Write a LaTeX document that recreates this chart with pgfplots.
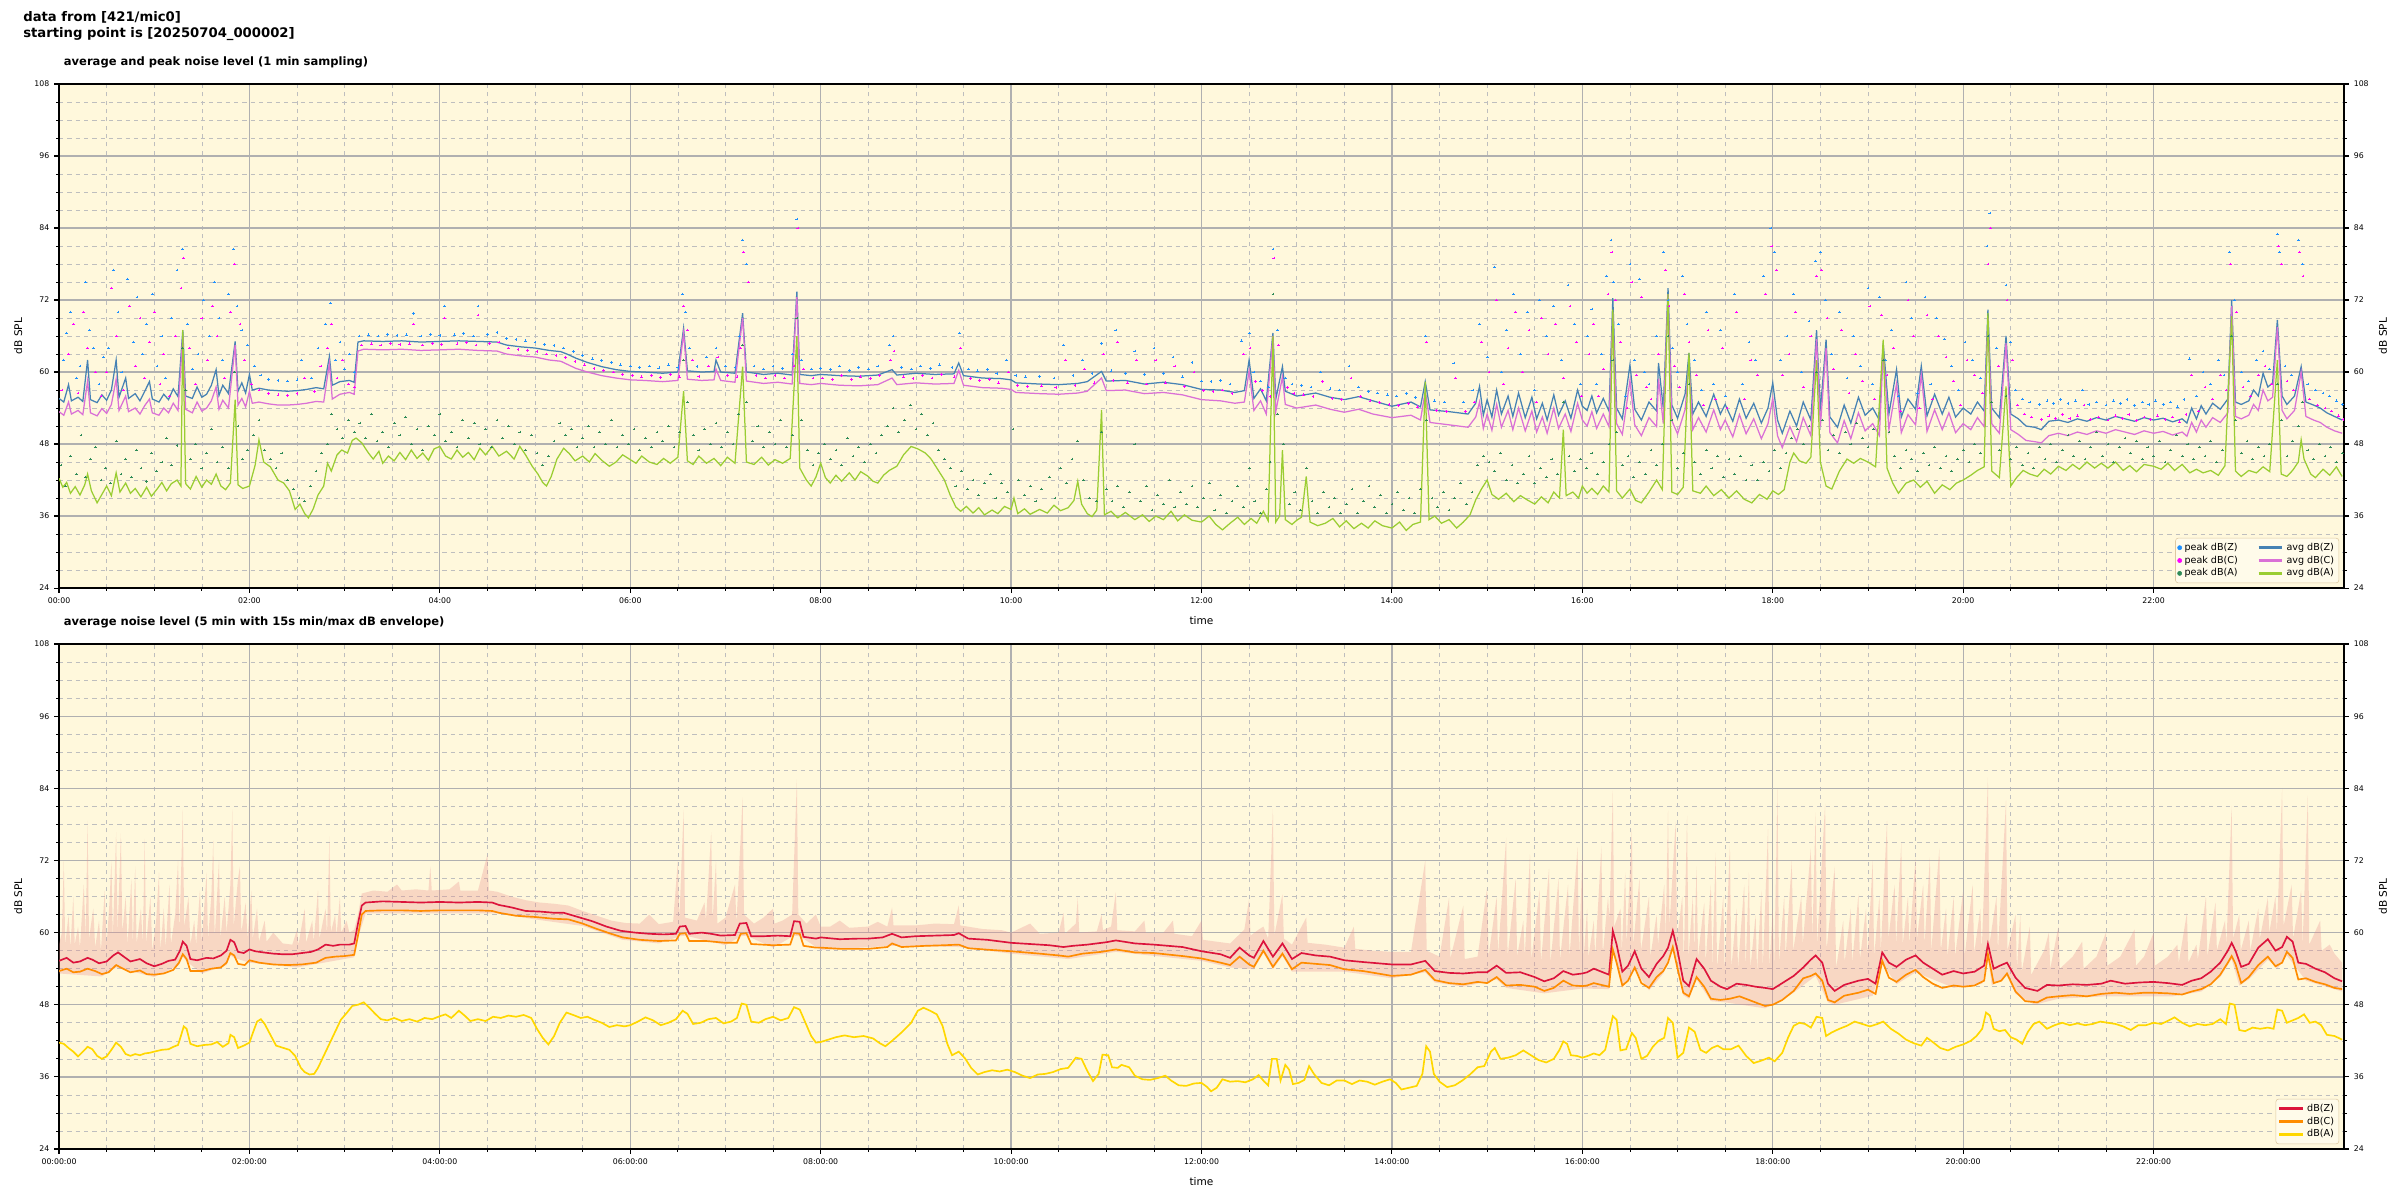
\documentclass[border=0pt]{standalone}
\usepackage{fontspec}
\setmainfont{DejaVu Sans}
\usepackage{pgfplots}
\pgfplotsset{compat=1.18}

\definecolor{cornsilk}{RGB}{255,248,220}
\definecolor{steelblue}{RGB}{70,130,180}
\definecolor{orchid}{RGB}{218,112,214}
\definecolor{yellowgreen}{RGB}{154,205,50}
\definecolor{dodgerblue}{RGB}{30,144,255}
\definecolor{peakmag}{RGB}{255,0,255}
\definecolor{seagreen}{RGB}{46,139,87}
\definecolor{crimson}{RGB}{220,20,60}
\definecolor{darkorange}{RGB}{255,140,0}
\definecolor{gold}{RGB}{255,215,0}
\definecolor{envpink}{RGB}{235,140,140}
\definecolor{gridmaj}{RGB}{176,176,176}
\definecolor{gridmin}{RGB}{190,190,190}
\definecolor{legedge}{RGB}{222,200,160}

\newcommand{\ticksize}{\fontsize{5.6}{6.7}\selectfont}
\newcommand{\labsize}{\fontsize{7.6}{9}\selectfont}
\newcommand{\legsize}{\fontsize{6.9}{8.2}\selectfont}

\pgfplotsset{
  noise/.style={
    width=1645.2pt, scale only axis,
    xmin=0, xmax=24, ymin=24, ymax=108,
    axis background/.style={fill=cornsilk},
    xtick={0,2,...,22}, minor x tick num=3,
    ytick={24,36,...,108}, yticklabels={24,36,48,60,72,84,96,108},
    minor y tick num=3,
    grid=both,
    major grid style={gridmaj, line width=0.9pt},
    minor grid style={gridmin, dashed, line width=0.45pt},
    tick align=outside, major tick length=3.5pt, minor tick length=2pt,
    major tick style={black, line width=0.8pt},
    minor tick style={black, line width=0.6pt},
    xtick pos=left, ytick pos=both, yticklabel pos=left,
    axis line style={black, line width=0.9pt},
    tick label style={font=\ticksize},
    /pgf/number format/assume math mode=true,
    xlabel={time}, ylabel={dB SPL}, label style={font=\labsize},
    xlabel style={at={(axis description cs:0.5,0)}, anchor=base, yshift=-26pt},
    ylabel style={at={(axis description cs:-0.0179,0.5)}, anchor=center},
    title style={at={(axis description cs:0,1)}, anchor=base west, yshift=7pt,
      font=\bfseries\fontsize{8.3}{10}\selectfont},
    legend cell align=left,
    legend style={at={(axis description cs:1,0)}, anchor=south east,
      xshift=-3.5pt, yshift=3.5pt, draw=legedge, fill=cornsilk!60!white,
      rounded corners=2pt, font=\legsize, inner sep=1.5pt, row sep=-1.5pt,
      /tikz/every even column/.append style={column sep=12pt}},
  },
  rightlab/.style={
    width=1645.2pt, scale only axis,
    xmin=0, xmax=24, ymin=24, ymax=108,
    hide x axis, axis y line*=right, y axis line style={draw=none},
    ytick={24,36,...,108}, yticklabels={24,36,48,60,72,84,96,108},
    tick align=outside, major tick length=3.5pt,
    major tick style={draw=none}, minor tick num=0,
    tick label style={font=\ticksize},
    ylabel={dB SPL}, label style={font=\labsize},
    ylabel style={at={(axis description cs:1.0170,0.5)}, anchor=center},
  },
  pk/.style={only marks, mark=+, mark size=1pt, mark options={line width=0.45pt}, forget plot},
}

\begin{document}
\begin{tikzpicture}

% ---------------- top panel ----------------
\begin{axis}[noise, at={(0,0)}, anchor=north west, height=362.9pt,
  xticklabels={00:00,02:00,04:00,06:00,08:00,10:00,12:00,14:00,16:00,18:00,20:00,22:00},
  title={average and peak noise level (1 min sampling)},
  legend columns=3, transpose legend]

% peak dB(Z)
\addplot[pk, dodgerblue] coordinates {
(0.05,62) (0.08,66.5) (0.12,70) (0.18,59) (0.22,61) (0.28,75) (0.32,67) (0.36,64) (0.42,58) (0.47,62.5) (0.52,64) (0.57,77) (0.62,70) (0.66,60) (0.72,75.5) (0.78,65) (0.82,72.5) (0.88,63) (0.92,68) (0.98,73) (1.03,61) (1.08,66) (1.12,59) (1.18,69) (1.24,77) (1.30,80.5) (1.35,68) (1.40,60.5) (1.46,63) (1.52,72) (1.58,66) (1.63,75) (1.68,69) (1.72,62) (1.78,73) (1.83,80.5) (1.87,71) (1.92,67) (1.98,64.5) (2.05,61) (2.12,59.5) (2.2,58.8) (2.3,58.6) (2.4,58.5) (2.5,58.7) (2.55,62) (2.65,59) (2.72,64) (2.8,68) (2.85,71.5) (2.9,62) (2.95,65) (3.0,60.5) (3.05,63) (3.1,60)
(3.15,66) (3.25,66.2) (3.35,66) (3.45,66.3) (3.55,66.1) (3.65,66.2) (3.72,69.8) (3.8,66) (3.9,66.3) (4.0,66.1) (4.05,71) (4.15,66.2) (4.25,66.4) (4.35,66) (4.4,71) (4.5,66.3) (4.6,66.6) (4.7,65.6) (4.8,65.4) (4.9,65.2) (5.0,65) (5.1,64.6) (5.2,64.4) (5.3,64) (5.4,63.4) (5.5,62.8) (5.6,62.2) (5.7,61.9) (5.8,61.6) (5.9,61.2) (6.0,61) (6.1,60.8) (6.2,61) (6.3,60.7) (6.4,61.2) (6.5,60.8) (6.55,73) (6.58,70) (6.62,64) (6.7,60.9) (6.8,62.5) (6.9,64) (7.0,61) (7.1,60.8) (7.15,66) (7.18,82) (7.22,78) (7.3,61) (7.4,60.5) (7.5,61) (7.6,60.6) (7.7,63) (7.75,85.5) (7.8,62) (7.9,60.5)
(8.0,60.6) (8.1,60.4) (8.2,61) (8.3,60.3) (8.4,60.8) (8.5,60.5) (8.6,61) (8.72,64.5) (8.76,66) (8.85,60.8) (8.95,60.5) (9.05,61) (9.15,60.6) (9.25,61.2) (9.38,60.8) (9.46,66.5) (9.55,60.5) (9.65,60.2) (9.75,60.4) (9.85,59.8) (9.95,62) (10.05,59.4) (10.15,59.2) (10.3,59.3) (10.45,59) (10.55,64.5) (10.65,59.4) (10.75,62) (10.85,59.8) (10.95,64.8) (11.05,60.2) (11.1,67) (11.2,59.8) (11.3,63.5) (11.4,59.6) (11.5,64) (11.6,59.8) (11.7,62.5) (11.8,59.2) (11.9,61.6) (12.0,58.5) (12.1,58.4) (12.2,58.6) (12.3,58) (12.42,65.2) (12.5,66.5) (12.55,60) (12.62,58.5) (12.7,57.5) (12.75,80.5) (12.8,67) (12.88,59) (12.95,58) (13.05,57.8) (13.15,57.5) (13.25,60) (13.35,57.2) (13.45,57) (13.55,61) (13.65,57.5) (13.75,56.8) (13.85,56.5) (13.95,56.2) (14.05,56) (14.15,56.4) (14.25,55.8) (14.35,66) (14.45,55.2) (14.55,55) (14.65,61.5) (14.75,55) (14.85,57) (14.92,68) (15.0,62.5) (15.08,77.5) (15.15,60) (15.2,67) (15.28,73) (15.35,63) (15.42,70) (15.5,57) (15.55,72) (15.62,66) (15.7,71) (15.78,62) (15.85,74.5) (15.92,68) (15.98,58)
(16.05,66) (16.1,70.5) (16.15,58) (16.2,63) (16.25,76) (16.3,82) (16.33,75) (16.38,68) (16.45,56) (16.5,78) (16.55,62) (16.6,75.5) (16.65,60) (16.7,58) (16.78,66) (16.85,80) (16.9,72) (16.95,64) (17.0,60) (17.05,76) (17.1,68) (17.18,62) (17.25,57) (17.3,70) (17.38,58) (17.45,67) (17.5,56) (17.6,73) (17.68,58) (17.75,65) (17.82,62) (17.9,76) (17.98,84) (18.02,80) (18.08,62) (18.15,66) (18.22,73) (18.3,60) (18.38,68.5) (18.45,78.5) (18.5,80) (18.55,72) (18.62,63) (18.7,70) (18.78,59) (18.85,66) (18.92,61) (19.0,74) (19.05,58) (19.12,72.5) (19.18,62) (19.25,67) (19.32,56) (19.4,75) (19.46,69) (19.52,56.5) (19.6,72.5) (19.66,58) (19.72,69) (19.8,65.5) (19.88,61) (19.95,57) (20.02,65) (20.1,62) (20.18,59) (20.25,81) (20.28,86.5) (20.35,64) (20.45,74.5) (20.5,65) (20.55,57) (20.62,55.5) (20.7,55) (20.8,54.6) (20.88,55.2) (20.95,54.8) (21.02,55.4) (21.1,54.8) (21.18,55.2) (21.25,57) (21.32,54.6) (21.4,55) (21.5,54.5) (21.58,55.2) (21.65,54.8) (21.72,55.4) (21.8,54.4) (21.88,55) (21.95,54.6) (22.02,55.2) (22.1,54.6) (22.18,55) (22.25,54.2) (22.32,55.4) (22.38,62.2) (22.45,56) (22.52,60) (22.6,58) (22.68,62) (22.74,59.5) (22.8,80) (22.85,72) (22.92,60) (23.0,58.5) (23.08,62) (23.15,63.5) (23.22,60.5) (23.3,83) (23.32,80) (23.38,61) (23.45,59.5) (23.52,82) (23.56,78) (23.62,58) (23.7,57) (23.78,56.5) (23.85,56) (23.92,55.2) (23.98,54.6)
};

% peak dB(C)
\addplot[pk, peakmag] coordinates {
(0.03,57) (0.1,63) (0.15,68) (0.2,56.5) (0.26,70) (0.3,64) (0.38,60) (0.44,56) (0.5,60) (0.55,74) (0.6,66) (0.68,57) (0.74,71) (0.8,61) (0.85,69) (0.9,59) (0.95,65) (1.0,70) (1.06,58) (1.1,63) (1.16,56) (1.22,66) (1.28,74) (1.31,79) (1.37,64) (1.43,58) (1.5,69) (1.56,62) (1.61,71) (1.66,66) (1.74,59) (1.8,70) (1.84,78) (1.9,68) (1.95,62) (2.02,58) (2.1,57) (2.2,56.4) (2.3,56.2) (2.4,56.1) (2.5,56.4) (2.58,59) (2.68,56.8) (2.75,61) (2.82,64) (2.86,68) (2.92,59) (2.98,62) (3.04,58) (3.1,57.5)
(3.18,64.5) (3.28,64.7) (3.38,64.5) (3.48,64.8) (3.58,64.6) (3.68,64.7) (3.72,68) (3.82,64.5) (3.92,64.8) (4.02,64.6) (4.05,69) (4.18,64.7) (4.28,64.9) (4.38,64.5) (4.4,69.5) (4.52,64.8) (4.62,65) (4.72,64) (4.82,63.8) (4.92,63.6) (5.02,63.4) (5.12,63) (5.22,62.8) (5.32,62.4) (5.42,61.8) (5.52,61.2) (5.62,60.6) (5.72,60.3) (5.82,60) (5.92,59.6) (6.02,59.4) (6.12,59.2) (6.22,59.4) (6.32,59.1) (6.42,59.6) (6.52,59.2) (6.56,71) (6.6,67) (6.65,62) (6.72,59.3) (6.82,61) (6.92,62.5) (7.02,59.4) (7.12,59.2) (7.16,64) (7.19,80) (7.24,75) (7.32,59.4) (7.42,59) (7.52,59.4) (7.62,59) (7.72,61) (7.76,84) (7.82,60.5) (7.92,59)
(8.02,59) (8.12,58.8) (8.22,59.4) (8.32,58.8) (8.42,59.2) (8.52,58.9) (8.62,59.4) (8.73,62) (8.77,63.5) (8.87,59.2) (8.97,58.9) (9.07,59.4) (9.17,59) (9.27,59.6) (9.4,59.2) (9.47,64) (9.57,58.9) (9.67,58.6) (9.77,58.8) (9.87,58.2) (9.97,60) (10.07,57.8) (10.17,57.6) (10.32,57.7) (10.47,57.4) (10.57,62) (10.67,57.8) (10.77,60.5) (10.87,58.2) (10.97,63) (11.07,58.6) (11.12,65) (11.22,58.2) (11.32,62) (11.42,58) (11.52,62) (11.62,58.2) (11.72,61) (11.82,57.6) (11.92,60) (12.02,56.9) (12.12,56.8) (12.22,57) (12.32,56.4) (12.44,63) (12.51,64) (12.57,58.4) (12.64,56.9) (12.72,55.9) (12.76,79) (12.81,64.5) (12.9,57.4) (12.97,56.4) (13.07,56.2) (13.17,55.9) (13.27,58.4) (13.37,55.6) (13.47,55.4) (13.57,59) (13.67,55.9) (13.77,55.2) (13.87,54.9) (13.97,54.6) (14.07,54.4) (14.17,54.8) (14.27,54.2) (14.36,65) (14.47,53.6) (14.57,53.4) (14.67,59) (14.77,53.4) (14.87,55) (14.94,65) (15.02,60) (15.1,72) (15.17,58) (15.22,64) (15.3,70) (15.37,60) (15.44,67) (15.52,55) (15.57,69) (15.64,63) (15.72,68) (15.8,59) (15.87,71) (15.94,65) (15.99,56)
(16.07,63) (16.12,68) (16.17,56) (16.22,60.5) (16.27,73) (16.31,80) (16.35,72) (16.4,65) (16.47,54) (16.52,75) (16.57,59.5) (16.62,72.5) (16.67,57.5) (16.72,55.5) (16.8,63) (16.87,77) (16.91,71) (16.97,61) (17.02,57.5) (17.07,73) (17.12,65) (17.2,59.5) (17.27,54.5) (17.32,67) (17.4,55.5) (17.47,64) (17.52,54) (17.62,70) (17.7,55.5) (17.77,62) (17.84,59.5) (17.92,73) (17.99,81) (18.04,77) (18.1,59.5) (18.17,63) (18.24,70) (18.32,57.5) (18.4,66) (18.46,76) (18.51,77) (18.57,69) (18.64,60.5) (18.72,67) (18.8,56.5) (18.87,63) (18.94,58.5) (19.02,71) (19.07,55.5) (19.14,69.5) (19.2,59.5) (19.27,64) (19.34,53.5) (19.42,72) (19.48,66) (19.54,54) (19.62,69.5) (19.68,55.5) (19.74,66) (19.82,62.5) (19.9,58.5) (19.97,54.5) (20.04,62) (20.12,59.5) (20.2,56.5) (20.26,78) (20.29,84) (20.37,61) (20.46,72) (20.52,62) (20.57,54.5) (20.64,53) (20.72,52.5) (20.82,52.1) (20.9,52.7) (20.97,52.3) (21.04,52.9) (21.12,52.3) (21.2,52.7) (21.27,54.5) (21.34,52.1) (21.42,52.5) (21.52,52) (21.6,52.7) (21.67,52.3) (21.74,52.9) (21.82,51.9) (21.9,52.5) (21.97,52.1) (22.04,52.7) (22.12,52.1) (22.2,52.5) (22.27,51.7) (22.34,52.9) (22.4,59.5) (22.47,53.5) (22.54,57.5) (22.62,55.5) (22.7,59.5) (22.76,57) (22.81,78) (22.87,70) (22.94,57.5) (23.02,56) (23.1,59.5) (23.17,61) (23.24,58) (23.31,81) (23.34,78) (23.4,58.5) (23.47,57) (23.53,80) (23.57,76) (23.64,55.5) (23.72,54.5) (23.8,54) (23.87,53.5) (23.94,52.7) (23.99,52.1)
};

% peak dB(A)
\addplot[pk, seagreen] coordinates {
(0.02,44.5) (0.07,41) (0.12,46) (0.18,43) (0.23,49.5) (0.28,42.5) (0.33,45.5) (0.38,47.5) (0.44,42) (0.49,44) (0.54,41.5) (0.6,48.5) (0.65,43) (0.7,45.5) (0.76,42.5) (0.81,47) (0.86,44) (0.92,41.8) (0.97,46.5) (1.02,43.5) (1.08,45) (1.13,49) (1.18,44.5) (1.24,47.8) (1.3,64) (1.33,57) (1.38,45.5) (1.43,48) (1.5,44) (1.55,46.5) (1.6,50.5) (1.66,45) (1.72,47.5) (1.78,44) (1.84,60) (1.88,51) (1.93,45.5) (1.98,47) (2.04,49.5) (2.1,52) (2.16,47) (2.22,45.5) (2.28,44) (2.34,46.5) (2.4,42) (2.46,40.5) (2.52,39) (2.58,38.5) (2.64,41) (2.7,43.5) (2.76,46.5) (2.82,48) (2.86,53) (2.92,50.5) (2.98,49) (3.04,52) (3.1,50) (3.16,51.5) (3.22,49) (3.28,53) (3.34,48.5) (3.4,50) (3.46,47.5) (3.52,51.5) (3.58,49.5) (3.64,52.5) (3.7,48) (3.76,50.5) (3.82,47) (3.88,51) (3.94,49.5) (4.0,53) (4.06,48.5) (4.12,50) (4.18,47.5) (4.24,52) (4.3,49) (4.36,51.5) (4.42,48) (4.48,50.5) (4.54,47.5) (4.6,52) (4.66,49) (4.72,51) (4.78,48) (4.84,50) (4.9,47) (4.96,49.5) (5.02,46.5) (5.08,44.5) (5.14,46) (5.2,48.5) (5.26,51.5) (5.32,49.5) (5.38,50.5) (5.44,47.5) (5.5,49) (5.56,51) (5.62,47.5) (5.68,50) (5.74,48) (5.8,52) (5.86,47.5) (5.92,49.5) (5.98,48) (6.04,50.5) (6.1,47) (6.16,49) (6.22,47.5) (6.28,50) (6.34,48.5) (6.4,51) (6.46,47.5) (6.52,50) (6.56,62) (6.6,55) (6.66,49.5) (6.72,47) (6.78,50.5) (6.84,48) (6.9,51.5) (6.96,47.5) (7.02,50) (7.08,48) (7.14,53) (7.18,64.5) (7.22,55) (7.28,48.5) (7.34,51) (7.4,47.5) (7.46,50) (7.52,48) (7.58,52) (7.64,47.5) (7.7,49.5) (7.75,69) (7.8,52) (7.86,47) (7.92,44.5)
(7.98,46.5) (8.04,48) (8.1,45.5) (8.16,47) (8.22,44.5) (8.28,49) (8.34,46) (8.4,47.5) (8.46,45) (8.52,48) (8.58,46.5) (8.64,49.5) (8.7,51) (8.76,54) (8.82,50) (8.88,52) (8.94,54.5) (9.0,50.5) (9.06,53) (9.12,49.5) (9.18,51.5) (9.24,47) (9.3,45.5) (9.36,44) (9.42,41) (9.48,43.5) (9.54,40.5) (9.6,42) (9.66,39.5) (9.72,41.5) (9.78,43) (9.84,39) (9.9,41.5) (9.96,40) (10.02,50.5) (10.08,42) (10.14,39.5) (10.2,41) (10.26,38.5) (10.32,40.5) (10.4,42.5) (10.46,39) (10.52,44) (10.58,41.5) (10.64,45.5) (10.7,48.5) (10.76,42) (10.82,39) (10.9,38.5) (10.95,50) (11.0,40.5) (11.06,38.5) (11.12,41) (11.18,37.5) (11.24,40) (11.3,48) (11.36,38.5) (11.42,41) (11.48,37) (11.54,39.5) (11.6,38) (11.66,42) (11.72,37.5) (11.78,40) (11.84,38) (11.9,41) (11.96,37.5) (12.02,39) (12.08,41.5) (12.14,37) (12.2,39.5) (12.26,36.5) (12.32,38.5) (12.38,41) (12.44,37.5) (12.5,44) (12.56,38.5) (12.62,36.5) (12.68,40.5) (12.72,45) (12.75,73) (12.8,53) (12.86,48) (12.92,38) (12.98,40) (13.04,37) (13.1,44) (13.16,38.5) (13.22,36.5) (13.28,40) (13.34,37.5) (13.4,39) (13.46,36.5) (13.52,38) (13.58,40.5) (13.64,36.5) (13.7,38.5) (13.76,41) (13.82,37.5) (13.88,39.5) (13.94,36.5) (14.0,38) (14.06,40) (14.12,37) (14.18,39) (14.24,36.5) (14.3,40.5) (14.36,52) (14.42,39) (14.48,37.5) (14.54,40) (14.6,37) (14.66,39) (14.72,41.5) (14.78,38) (14.84,40) (14.9,44.5) (14.96,46) (15.02,45) (15.08,43.5) (15.14,46.5) (15.2,42) (15.26,44.5) (15.32,41.5) (15.38,43) (15.44,46) (15.5,41.5) (15.56,44) (15.62,42.5) (15.68,45.5) (15.74,43) (15.8,55) (15.86,46) (15.92,43.5) (15.98,45.5)
(16.04,44) (16.1,46.5) (16.16,43) (16.22,45) (16.28,48) (16.32,62) (16.36,50) (16.42,44.5) (16.48,46) (16.54,42.5) (16.6,45) (16.66,43) (16.72,47) (16.78,44.5) (16.84,48) (16.9,66) (16.94,52) (17.0,44) (17.06,46.5) (17.12,58) (17.18,45) (17.24,43) (17.3,47) (17.36,44) (17.42,46) (17.48,42.5) (17.54,45.5) (17.6,43) (17.66,46) (17.72,42) (17.78,44.5) (17.84,42) (17.9,45) (17.96,43.5) (18.02,47) (18.08,44) (18.14,46.5) (18.2,49) (18.26,50.5) (18.32,48) (18.38,51) (18.46,60) (18.52,52) (18.58,47) (18.64,49.5) (18.7,46.5) (18.76,50) (18.82,48) (18.88,51.5) (18.94,49) (19.0,47.5) (19.06,50.5) (19.16,62) (19.22,50) (19.28,46) (19.34,44) (19.4,47) (19.46,45.5) (19.52,43.5) (19.58,46.5) (19.64,44.5) (19.7,47.5) (19.76,44) (19.82,46) (19.88,43.5) (19.94,45.5) (20.0,47) (20.06,45) (20.12,48) (20.18,46.5) (20.26,66) (20.3,55) (20.38,47) (20.45,56) (20.5,45.5) (20.56,47.5) (20.62,44.5) (20.68,46.5) (20.74,44) (20.8,47.5) (20.86,45.5) (20.92,48) (20.98,45) (21.04,47) (21.1,49.5) (21.16,46) (21.22,48.5) (21.28,45.5) (21.34,47.5) (21.4,50) (21.46,46) (21.52,48) (21.58,45) (21.64,47.5) (21.7,49) (21.76,46.5) (21.82,48.5) (21.88,45.5) (21.94,47.5) (22.0,46) (22.06,48.5) (22.12,45) (22.18,47) (22.24,49.5) (22.3,46) (22.36,48) (22.42,45.5) (22.48,47.5) (22.54,46) (22.6,48.5) (22.66,45) (22.72,47) (22.82,66) (22.86,52) (22.92,46.5) (22.98,48.5) (23.04,45.5) (23.1,47.5) (23.16,46) (23.22,48) (23.3,58) (23.34,52) (23.4,46) (23.46,48.5) (23.52,51) (23.56,55) (23.62,47) (23.68,45.5) (23.74,48) (23.8,46) (23.86,47.5) (23.92,45) (23.98,46.5)
};

% avg dB(Z)
\addplot[steelblue, line width=0.9pt, forget plot] coordinates {
(0.00,55.6) (0.05,55.0) (0.10,57.9) (0.13,55.2) (0.20,55.8) (0.25,55.1) (0.30,62.0) (0.33,55.4) (0.40,54.9) (0.45,56.2) (0.50,55.3) (0.55,57.0) (0.60,62.0) (0.63,55.8) (0.70,59.0) (0.73,55.6) (0.80,56.4) (0.85,55.2) (0.90,56.8) (0.95,58.4) (0.98,55.5) (1.05,55.0) (1.10,56.3) (1.15,55.4) (1.20,57.2) (1.25,55.9) (1.30,67.0) (1.33,56.0) (1.40,55.6) (1.45,57.5) (1.50,55.8) (1.55,56.3) (1.60,57.8) (1.65,60.4) (1.68,56.1) (1.72,57.8) (1.78,56.4) (1.85,65.1) (1.88,56.8) (1.92,58.2) (1.96,56.5) (2.00,59.6) (2.03,57.0) (2.10,57.3) (2.20,57.0) (2.30,56.9) (2.40,56.8) (2.50,56.9) (2.60,57.1) (2.70,57.4) (2.78,57.2) (2.84,62.6) (2.87,57.8) (2.95,58.4) (3.05,58.6) (3.10,58.3) (3.14,65.0) (3.20,65.2) (3.40,65.1) (3.60,65.2) (3.80,65.0) (4.00,65.1) (4.20,65.2) (4.40,65.1) (4.60,65.0) (4.70,64.5) (4.85,64.2) (5.00,64.0) (5.15,63.6) (5.27,63.4) (5.35,62.9) (5.43,62.3) (5.55,61.6) (5.70,60.9) (5.85,60.4) (6.00,60.1) (6.15,60.0) (6.34,59.8) (6.50,60.0) (6.56,67.3) (6.60,60.2) (6.75,60.0) (6.88,60.1) (6.90,62.0) (6.95,60.0) (7.10,59.8) (7.18,69.8) (7.22,60.0) (7.40,59.6) (7.55,59.8) (7.70,59.5) (7.75,73.4) (7.78,59.6) (7.90,59.4) (8.00,59.6)
(8.20,59.4) (8.40,59.3) (8.60,59.5) (8.75,60.4) (8.80,59.5) (9.00,59.8) (9.20,59.6) (9.40,59.7) (9.45,61.5) (9.50,59.4) (9.70,59.0) (9.90,58.9) (10.00,58.7) (10.05,58.2) (10.30,58.0) (10.50,57.9) (10.70,58.1) (10.80,58.4) (10.95,60.1) (11.00,58.5) (11.20,58.6) (11.40,58.0) (11.60,58.3) (11.80,57.9) (12.00,57.1) (12.20,57.0) (12.35,56.6) (12.45,56.9) (12.50,62.0) (12.55,55.6) (12.62,57.2) (12.68,55.2) (12.75,66.5) (12.78,55.5) (12.85,60.9) (12.88,56.8) (13.00,56.0) (13.20,56.5) (13.35,55.8) (13.50,55.4) (13.65,55.9) (13.80,55.2) (14.00,54.3) (14.20,55.0) (14.30,54.2) (14.35,58.4) (14.40,53.7) (14.60,53.4) (14.80,53.0) (14.88,54.8) (14.92,57.6) (14.96,52.8) (15.00,55.4) (15.05,52.5) (15.10,57.0) (15.15,53.0) (15.22,56.0) (15.27,52.6) (15.33,56.5) (15.40,52.4) (15.47,55.8) (15.52,52.2) (15.58,54.8) (15.63,52.0) (15.70,56.2) (15.75,52.8) (15.82,55.2) (15.88,52.3) (15.95,57.0) (16.00,54.3)
(16.05,53.6) (16.10,56.0) (16.15,53.2) (16.22,55.6) (16.28,53.5) (16.32,72.3) (16.36,54.0) (16.42,52.2) (16.50,61.2) (16.55,53.8) (16.62,52.0) (16.70,55.0) (16.78,53.5) (16.80,61.5) (16.85,54.0) (16.90,74.0) (16.94,54.5) (17.00,52.3) (17.08,56.4) (17.12,63.2) (17.16,53.0) (17.22,55.0) (17.30,52.6) (17.38,56.3) (17.45,53.0) (17.50,54.6) (17.58,51.8) (17.65,55.5) (17.72,52.3) (17.80,54.8) (17.88,51.5) (17.95,54.0) (18.00,58.2) (18.05,52.0) (18.10,49.8) (18.18,53.5) (18.25,51.0) (18.32,55.0) (18.40,52.0) (18.46,67.0) (18.50,53.5) (18.56,65.4) (18.60,52.5) (18.68,50.8) (18.75,54.5) (18.82,51.5) (18.90,55.8) (18.97,52.8) (19.05,54.0) (19.12,52.0) (19.16,64.8) (19.22,53.0) (19.30,60.4) (19.35,52.5) (19.42,55.5) (19.50,53.8) (19.56,61.0) (19.62,52.7) (19.70,56.3) (19.78,53.0) (19.85,55.8) (19.92,52.5) (20.00,54.0) (20.08,53.0) (20.15,55.0) (20.22,53.5) (20.26,70.4) (20.30,54.0) (20.38,52.4) (20.45,66.0) (20.50,53.0) (20.58,52.2) (20.66,51.0) (20.75,50.8) (20.82,50.4) (20.90,51.8) (21.00,52.0) (21.10,51.6) (21.20,52.2) (21.30,51.8) (21.40,52.4) (21.50,52.0) (21.60,52.6) (21.70,52.2) (21.80,51.8) (21.90,52.4) (22.00,52.0) (22.10,52.3) (22.20,51.7) (22.30,52.2) (22.35,51.5) (22.40,54.0) (22.45,52.2) (22.50,54.4) (22.55,53.0) (22.62,54.8) (22.70,53.8) (22.78,55.5) (22.82,72.0) (22.86,55.0) (22.92,54.6) (23.00,55.2) (23.05,57.0) (23.10,56.0) (23.15,59.8) (23.20,57.5) (23.25,58.2) (23.30,68.7) (23.35,56.0) (23.40,54.6) (23.48,56.0) (23.55,60.9) (23.60,55.0) (23.68,54.5) (23.75,54.0) (23.82,53.2) (23.90,52.6) (23.98,52.0)
};

% avg dB(C)
\addplot[orchid, line width=0.9pt, forget plot] coordinates {
(0.00,53.4) (0.05,52.8) (0.10,55.0) (0.13,53.0) (0.20,53.6) (0.25,52.9) (0.30,58.5) (0.33,53.2) (0.40,52.7) (0.45,53.9) (0.50,53.1) (0.55,54.6) (0.60,58.8) (0.63,53.6) (0.70,56.0) (0.73,53.4) (0.80,54.0) (0.85,53.0) (0.90,54.4) (0.95,55.5) (0.98,53.2) (1.05,52.8) (1.10,54.0) (1.15,53.2) (1.20,54.8) (1.25,53.6) (1.30,66.0) (1.33,53.8) (1.40,53.2) (1.45,55.0) (1.50,53.5) (1.55,54.0) (1.60,55.2) (1.65,57.5) (1.68,53.8) (1.72,55.3) (1.78,54.0) (1.85,64.5) (1.88,54.5) (1.92,55.6) (1.96,54.2) (2.00,56.8) (2.03,54.8) (2.10,55.0) (2.20,54.7) (2.30,54.5) (2.40,54.5) (2.50,54.6) (2.60,54.8) (2.70,55.1) (2.78,55.0) (2.84,61.5) (2.87,55.5) (2.95,56.3) (3.05,56.6) (3.10,56.3) (3.14,63.5) (3.20,63.8) (3.40,63.7) (3.60,63.8) (3.80,63.6) (4.00,63.7) (4.20,63.8) (4.40,63.6) (4.60,63.5) (4.70,63.0) (4.85,62.7) (5.00,62.5) (5.15,62.0) (5.27,61.8) (5.35,61.2) (5.43,60.6) (5.55,60.0) (5.70,59.4) (5.85,59.0) (6.00,58.7) (6.15,58.6) (6.34,58.4) (6.50,58.6) (6.56,66.5) (6.60,58.8) (6.75,58.6) (6.88,58.7) (6.90,60.5) (6.95,58.6) (7.10,58.3) (7.18,69.0) (7.22,58.5) (7.40,58.1) (7.55,58.3) (7.70,58.0) (7.75,72.5) (7.78,58.1) (7.90,57.9) (8.00,58.1)
(8.20,57.8) (8.40,57.7) (8.60,57.9) (8.75,59.0) (8.80,57.9) (9.00,58.2) (9.20,58.0) (9.40,58.1) (9.45,60.3) (9.50,57.8) (9.70,57.4) (9.90,57.3) (10.00,57.1) (10.05,56.6) (10.30,56.4) (10.50,56.3) (10.70,56.5) (10.80,56.8) (10.95,59.0) (11.00,56.9) (11.20,57.0) (11.40,56.4) (11.60,56.6) (11.80,56.2) (12.00,55.4) (12.20,55.2) (12.35,54.8) (12.45,55.0) (12.50,60.2) (12.55,53.6) (12.62,55.2) (12.68,53.0) (12.75,66.0) (12.78,53.4) (12.85,59.2) (12.88,54.6) (13.00,54.0) (13.20,54.5) (13.35,53.8) (13.50,53.3) (13.65,53.8) (13.80,53.0) (14.00,52.4) (14.20,52.8) (14.30,52.0) (14.35,56.8) (14.40,51.6) (14.60,51.2) (14.80,50.8) (14.88,52.5) (14.92,55.0) (14.96,50.6) (15.00,53.0) (15.05,50.3) (15.10,54.6) (15.15,50.8) (15.22,53.6) (15.27,50.4) (15.33,54.0) (15.40,50.2) (15.47,53.5) (15.52,50.0) (15.58,52.5) (15.63,49.8) (15.70,54.0) (15.75,50.6) (15.82,53.0) (15.88,50.1) (15.95,54.8) (16.00,52.0)
(16.05,51.0) (16.10,53.4) (16.15,50.6) (16.22,53.0) (16.28,50.9) (16.32,70.0) (16.36,51.4) (16.42,49.6) (16.50,58.6) (16.55,51.2) (16.62,49.4) (16.70,52.4) (16.78,50.9) (16.80,58.9) (16.85,51.4) (16.90,73.0) (16.94,51.9) (17.00,49.7) (17.08,53.8) (17.12,61.5) (17.16,50.4) (17.22,52.4) (17.30,50.0) (17.38,53.7) (17.45,50.4) (17.50,52.0) (17.58,49.2) (17.65,52.9) (17.72,49.7) (17.80,52.2) (17.88,48.9) (17.95,51.4) (18.00,55.6) (18.05,49.4) (18.10,47.4) (18.18,50.9) (18.25,48.4) (18.32,52.4) (18.40,49.4) (18.46,65.5) (18.50,50.9) (18.56,64.0) (18.60,49.9) (18.68,48.2) (18.75,51.9) (18.82,48.9) (18.90,53.2) (18.97,50.2) (19.05,51.4) (19.12,49.4) (19.16,63.5) (19.22,50.4) (19.30,58.0) (19.35,49.9) (19.42,52.9) (19.50,51.2) (19.56,59.5) (19.62,50.1) (19.70,53.7) (19.78,50.4) (19.85,53.2) (19.92,49.9) (20.00,51.4) (20.08,50.4) (20.15,52.4) (20.22,50.9) (20.26,69.0) (20.30,51.4) (20.38,49.8) (20.45,64.8) (20.50,50.4) (20.58,49.6) (20.66,48.6) (20.75,48.4) (20.82,48.2) (20.90,49.4) (21.00,49.8) (21.10,49.4) (21.20,50.0) (21.30,49.6) (21.40,50.2) (21.50,49.8) (21.60,50.4) (21.70,50.0) (21.80,49.6) (21.90,50.2) (22.00,49.8) (22.10,50.1) (22.20,49.5) (22.30,50.0) (22.35,49.3) (22.40,51.6) (22.45,50.0) (22.50,52.0) (22.55,50.8) (22.62,52.4) (22.70,51.6) (22.78,53.2) (22.82,71.0) (22.86,52.6) (22.92,52.2) (23.00,52.8) (23.05,54.6) (23.10,53.6) (23.15,57.0) (23.20,55.2) (23.25,55.8) (23.30,67.5) (23.35,53.6) (23.40,52.2) (23.48,53.6) (23.55,60.0) (23.60,52.6) (23.68,52.0) (23.75,51.6) (23.82,50.8) (23.90,50.2) (23.98,49.8)
};

% avg dB(A)
\addplot[yellowgreen, line width=0.9pt, forget plot] coordinates {
(0.00,42.3) (0.04,40.8) (0.08,41.6) (0.12,39.8) (0.17,40.9) (0.22,39.5) (0.27,41.2) (0.30,43.0) (0.34,40.2) (0.40,38.2) (0.45,39.6) (0.50,41.0) (0.55,39.4) (0.60,43.2) (0.64,40.0) (0.70,41.5) (0.75,39.8) (0.80,40.6) (0.86,39.2) (0.92,40.8) (0.97,39.3) (1.03,40.5) (1.08,41.6) (1.13,40.2) (1.18,41.4) (1.24,42.0) (1.28,41.0) (1.30,67.0) (1.33,41.4) (1.38,40.5) (1.44,42.6) (1.50,40.8) (1.55,42.0) (1.60,41.3) (1.65,43.0) (1.70,41.0) (1.75,40.4) (1.80,41.5) (1.85,55.4) (1.88,41.2) (1.93,40.6) (2.00,41.0) (2.06,44.5) (2.10,48.7) (2.15,45.0) (2.22,44.2) (2.30,42.0) (2.36,41.5) (2.42,40.2) (2.48,37.1) (2.53,38.0) (2.58,36.4) (2.62,35.7) (2.67,37.2) (2.72,39.5) (2.78,41.0) (2.82,44.8) (2.86,43.5) (2.92,46.2) (2.97,47.0) (3.03,46.5) (3.08,48.6) (3.12,49.0) (3.18,48.2) (3.25,46.5) (3.30,45.5) (3.36,46.8) (3.40,44.8) (3.46,46.0) (3.52,45.2) (3.58,46.6) (3.64,45.4) (3.70,47.0) (3.76,45.6) (3.82,46.5) (3.88,45.3) (3.94,47.2) (4.00,47.6) (4.06,46.0) (4.12,45.5) (4.18,47.0) (4.24,45.8) (4.30,46.6) (4.36,45.4) (4.42,47.3) (4.48,46.2) (4.55,47.6) (4.62,46.0) (4.70,46.8) (4.78,45.5) (4.84,47.6) (4.90,46.2) (4.97,44.3) (5.03,43.0) (5.08,41.6) (5.12,41.0) (5.17,42.6) (5.23,45.5) (5.30,47.3) (5.36,46.4) (5.42,45.2) (5.50,46.0) (5.57,45.0) (5.63,46.4) (5.70,45.3) (5.78,44.3) (5.85,45.0) (5.92,46.2) (6.00,45.4) (6.06,44.8) (6.12,46.0) (6.20,45.0) (6.28,44.6) (6.35,45.6) (6.42,44.8) (6.50,45.8) (6.56,56.8) (6.60,45.2) (6.66,44.6) (6.72,46.0) (6.80,44.8) (6.88,45.6) (6.95,44.4) (7.02,45.8) (7.10,44.8) (7.18,60.9) (7.22,45.0) (7.30,44.6) (7.38,45.8) (7.45,44.5) (7.52,45.4) (7.60,44.8) (7.68,45.6) (7.75,66.0) (7.78,44.0) (7.85,42.0) (7.90,41.0) (7.95,42.5) (8.00,44.8)
(8.05,42.4) (8.10,41.5) (8.16,42.8) (8.22,41.8) (8.30,43.2) (8.36,42.0) (8.42,43.4) (8.50,42.6) (8.55,41.8) (8.60,41.5) (8.66,42.8) (8.72,43.6) (8.80,44.3) (8.87,46.2) (8.95,47.6) (9.02,47.2) (9.10,46.5) (9.16,45.5) (9.22,44.0) (9.30,42.0) (9.36,39.5) (9.42,37.5) (9.47,36.8) (9.53,37.6) (9.60,36.5) (9.66,37.4) (9.72,36.2) (9.80,37.0) (9.86,36.4) (9.93,37.6) (10.00,37.1) (10.03,39.0) (10.07,36.4) (10.14,37.2) (10.20,36.3) (10.30,37.1) (10.38,36.5) (10.45,37.8) (10.52,36.9) (10.60,37.4) (10.66,38.6) (10.70,41.8) (10.74,38.0) (10.80,36.4) (10.85,35.9) (10.90,37.0) (10.95,53.7) (10.98,36.2) (11.05,36.8) (11.12,35.7) (11.20,36.6) (11.30,35.4) (11.38,36.2) (11.45,35.1) (11.52,36.0) (11.60,35.4) (11.68,36.8) (11.75,35.2) (11.82,36.2) (11.90,35.3) (12.00,35.0) (12.08,36.0) (12.15,34.6) (12.22,33.7) (12.30,34.8) (12.38,35.8) (12.45,34.6) (12.52,35.6) (12.58,34.8) (12.65,36.8) (12.70,35.2) (12.75,66.0) (12.78,35.0) (12.82,36.0) (12.85,47.0) (12.88,35.4) (12.95,34.6) (13.00,35.3) (13.05,35.8) (13.10,42.6) (13.14,35.0) (13.22,34.4) (13.30,34.8) (13.38,35.6) (13.45,34.2) (13.52,35.2) (13.60,33.9) (13.68,34.8) (13.75,34.0) (13.82,35.2) (13.90,34.4) (14.00,34.0) (14.08,35.0) (14.15,33.6) (14.22,34.6) (14.30,35.0) (14.35,58.4) (14.39,35.4) (14.45,36.0) (14.52,34.8) (14.60,35.4) (14.68,34.0) (14.75,35.0) (14.82,36.2) (14.88,38.7) (14.94,40.5) (15.00,42.0) (15.05,39.6) (15.12,38.8) (15.20,39.8) (15.28,38.4) (15.35,39.4) (15.42,38.7) (15.50,38.0) (15.57,39.2) (15.64,38.2) (15.70,40.0) (15.76,39.0) (15.80,50.4) (15.83,39.4) (15.90,40.0) (15.96,39.0) (16.00,41.0)
(16.05,39.8) (16.10,40.6) (16.16,39.6) (16.22,41.0) (16.28,40.0) (16.32,70.4) (16.36,40.2) (16.42,39.0) (16.50,40.5) (16.56,38.6) (16.62,38.2) (16.70,40.0) (16.78,42.0) (16.84,40.4) (16.90,73.0) (16.94,40.0) (17.00,39.6) (17.06,40.8) (17.12,63.2) (17.16,40.2) (17.24,39.8) (17.30,41.0) (17.38,39.4) (17.46,40.4) (17.54,39.0) (17.62,40.2) (17.70,38.8) (17.78,38.2) (17.86,39.6) (17.94,38.8) (18.00,40.2) (18.06,39.6) (18.12,40.4) (18.18,45.0) (18.22,46.5) (18.28,45.2) (18.35,44.8) (18.40,45.8) (18.46,62.0) (18.50,45.0) (18.56,41.0) (18.62,40.5) (18.70,43.5) (18.78,45.5) (18.85,44.8) (18.92,45.6) (19.00,45.0) (19.08,44.2) (19.16,65.4) (19.20,44.0) (19.26,41.5) (19.32,39.8) (19.40,41.5) (19.48,42.0) (19.55,40.8) (19.62,41.8) (19.70,39.8) (19.78,41.2) (19.86,40.4) (19.93,41.5) (20.00,42.0) (20.08,42.8) (20.15,43.6) (20.22,44.2) (20.26,69.8) (20.30,43.5) (20.38,42.4) (20.45,57.6) (20.50,41.0) (20.56,42.4) (20.63,43.6) (20.70,43.0) (20.78,42.6) (20.85,43.8) (20.92,43.0) (21.00,44.3) (21.08,43.6) (21.15,44.6) (21.22,43.8) (21.30,45.0) (21.38,44.0) (21.45,44.8) (21.52,44.0) (21.60,45.0) (21.68,43.6) (21.75,44.4) (21.82,43.4) (21.90,44.6) (22.00,44.3) (22.08,43.8) (22.15,44.8) (22.22,43.6) (22.30,44.6) (22.38,43.2) (22.45,43.8) (22.52,43.2) (22.60,43.6) (22.68,42.8) (22.75,44.4) (22.82,69.3) (22.86,43.5) (22.92,42.6) (23.00,43.6) (23.08,43.2) (23.15,44.2) (23.22,43.4) (23.30,62.0) (23.34,43.0) (23.40,42.6) (23.46,43.6) (23.52,45.0) (23.55,48.7) (23.58,45.5) (23.65,43.0) (23.70,42.4) (23.78,43.8) (23.85,42.8) (23.92,44.2) (23.98,42.6)
};

\addlegendimage{only marks, mark=*, mark size=1.5pt, dodgerblue}
\addlegendentry{peak dB(Z)}
\addlegendimage{only marks, mark=*, mark size=1.5pt, peakmag}
\addlegendentry{peak dB(C)}
\addlegendimage{only marks, mark=*, mark size=1.5pt, seagreen}
\addlegendentry{peak dB(A)}
\addlegendimage{steelblue, line width=2pt}
\addlegendentry{avg dB(Z)}
\addlegendimage{orchid, line width=2pt}
\addlegendentry{avg dB(C)}
\addlegendimage{yellowgreen, line width=2pt}
\addlegendentry{avg dB(A)}
\end{axis}

\begin{axis}[rightlab, at={(0,0)}, anchor=north west, height=362.9pt]
\end{axis}

% ---------------- bottom panel ----------------
\begin{axis}[noise, at={(0,-403.2pt)}, anchor=north west, height=363.6pt,
  xticklabels={00:00:00,02:00:00,04:00:00,06:00:00,08:00:00,10:00:00,12:00:00,14:00:00,16:00:00,18:00:00,20:00:00,22:00:00},
  title={average noise level (5 min with 15s min/max dB envelope)},
  legend image post style={line width=2pt}]

% 15 s min/max envelope: upper edge forward, lower edge back
\addplot[draw=none, fill=envpink, fill opacity=0.3, forget plot] coordinates {
(0.00,58) (0.03,60) (0.05,72) (0.065,58) (0.1,63) (0.12,57.5) (0.15,66) (0.165,58) (0.2,61) (0.22,57.5) (0.26,68) (0.28,59) (0.3,78.6) (0.315,59) (0.36,64) (0.38,57.5) (0.42,62) (0.44,57) (0.48,67) (0.5,58) (0.53,65) (0.55,72) (0.565,59) (0.6,76.7) (0.615,60) (0.65,76.5) (0.665,60) (0.7,66) (0.72,58) (0.76,69) (0.775,58) (0.8,71) (0.815,58) (0.86,64) (0.88,58) (0.9,75.6) (0.915,58) (0.96,66) (0.98,57) (1.02,62) (1.05,70) (1.065,57) (1.1,64) (1.12,57.5) (1.16,68) (1.175,58) (1.22,63) (1.25,72) (1.265,60) (1.3,80.4) (1.315,61) (1.36,66) (1.38,58) (1.42,62) (1.44,58) (1.48,67) (1.5,58.5) (1.55,70) (1.565,59) (1.6,66) (1.62,75.3) (1.635,59) (1.68,72) (1.695,59) (1.74,66) (1.76,60) (1.8,68) (1.82,80.5) (1.835,61) (1.88,69) (1.9,71) (1.915,60) (1.96,65) (1.98,59) (2.02,67) (2.035,59) (2.08,64) (2.1,58.5) (2.16,62) (2.18,58.5) (2.25,60) (2.35,58.2) (2.45,58) (2.5,60.5) (2.515,58) (2.58,64) (2.595,58.3) (2.66,62) (2.675,58.5) (2.72,67) (2.735,59) (2.8,64) (2.815,59.5) (2.84,76) (2.855,60) (2.9,63) (2.915,59.5) (2.95,66) (2.965,60) (3.02,62) (3.05,60) (3.1,60.5) (3.14,63) (3.18,66.5) (3.3,67) (3.45,66.8) (3.55,68) (3.6,67) (3.75,67.2) (3.88,67) (3.9,71) (3.915,67) (4.1,67.2) (4.2,68.5) (4.215,67) (4.4,67) (4.5,73) (4.515,67) (4.6,66.8) (4.75,66) (4.9,65.4) (5.05,65) (5.2,64.8) (5.35,64.5) (5.5,63.6) (5.65,62.8) (5.8,62) (5.95,61.6) (6.1,61.5) (6.2,63) (6.3,61.4) (6.45,61.8) (6.5,72) (6.515,62) (6.56,80.4) (6.575,62.5) (6.7,62) (6.78,65) (6.795,62) (6.85,76.7) (6.865,62) (6.9,72) (6.915,61.5) (7.0,62.5) (7.1,68) (7.115,61.5) (7.18,82.5) (7.195,63) (7.3,61.5) (7.4,62.5) (7.5,64) (7.515,61.5) (7.6,62) (7.7,63) (7.75,85.5) (7.765,63) (7.85,61.5) (7.95,63) (8.0,61)
(8.1,61) (8.2,62) (8.3,60.8) (8.5,61) (8.6,61.8) (8.7,61) (8.75,64.2) (8.765,61.2) (9.0,61.2) (9.2,61.5) (9.4,61.4) (9.45,64.5) (9.465,61.2) (9.7,60.6) (9.9,60.4) (10.0,60) (10.2,61.5) (10.3,59.8) (10.5,60) (10.55,63.3) (10.565,59.8) (10.68,61.5) (10.7,65.8) (10.715,60) (10.9,60.2) (10.95,63) (10.965,60.4) (11.05,61) (11.1,66.7) (11.115,60.4) (11.3,60.2) (11.4,62) (11.415,60) (11.6,60) (11.7,62) (11.715,59.8) (11.9,59.4) (12.0,62) (12.015,58.8) (12.2,58.4) (12.3,58.2) (12.45,60.5) (12.5,65.6) (12.515,59.5) (12.6,60.5) (12.65,61) (12.7,59) (12.75,80.6) (12.765,59.5) (12.85,66.4) (12.865,59) (12.95,58) (13.1,62.5) (13.115,58.3) (13.3,58) (13.5,57.5) (13.6,61) (13.615,57.3) (13.8,57) (14.0,56.8) (14.2,56.8) (14.35,72) (14.365,57) (14.5,56) (14.6,65.8) (14.615,55.8) (14.75,64.5) (14.765,55.6) (14.9,56) (15.0,67.5) (15.015,56) (15.1,66) (15.115,56.5) (15.2,75.8) (15.215,56) (15.3,69) (15.315,56) (15.38,62) (15.395,56) (15.45,73) (15.465,55.5) (15.55,67) (15.565,55) (15.65,70.6) (15.665,55) (15.75,69) (15.765,55.5) (15.85,68) (15.865,56) (15.95,74.2) (15.965,56) (16.0,73)
(16.015,56) (16.05,64) (16.065,56) (16.12,62) (16.135,56) (16.2,74.4) (16.215,56.5) (16.27,66) (16.285,62) (16.32,83.6) (16.335,61) (16.4,64) (16.415,57) (16.45,70) (16.465,58) (16.52,77.2) (16.535,58) (16.6,69) (16.615,57) (16.7,66) (16.715,56) (16.78,63) (16.795,58) (16.86,68) (16.875,59) (16.9,80.3) (16.915,61) (16.98,78.5) (16.995,59) (17.05,66) (17.065,55) (17.1,79.4) (17.115,56) (17.16,66) (17.175,57) (17.2,71) (17.215,56) (17.28,65) (17.295,55) (17.35,68) (17.365,54) (17.4,73.3) (17.415,54) (17.48,66) (17.495,53.5) (17.55,74.5) (17.565,54) (17.62,64) (17.635,54) (17.7,68) (17.715,54) (17.75,70) (17.765,54) (17.82,63) (17.835,53.5) (17.88,67) (17.895,54) (17.95,77.2) (17.965,54) (18.0,64) (18.015,54) (18.05,84) (18.065,55) (18.12,66) (18.135,56) (18.2,72) (18.215,57) (18.3,66) (18.315,58) (18.4,74) (18.415,58.5) (18.45,80) (18.465,58) (18.55,81.4) (18.565,57) (18.62,66) (18.65,71) (18.665,54) (18.74,62) (18.755,55) (18.82,64) (18.835,55) (18.9,66.4) (18.915,55.5) (18.98,64) (18.995,56) (19.05,72) (19.065,56) (19.12,66) (19.135,57) (19.2,78.6) (19.215,59) (19.28,68) (19.295,58) (19.35,75) (19.365,58) (19.42,66) (19.435,58) (19.5,72.5) (19.515,59) (19.58,68) (19.595,58) (19.65,72.5) (19.665,57) (19.75,74) (19.765,57) (19.82,64) (19.835,56) (19.9,66) (19.915,56) (20.0,67) (20.015,56) (20.1,68) (20.115,56.5) (20.18,64) (20.195,57) (20.26,85.8) (20.275,58) (20.35,66) (20.365,57) (20.45,82) (20.465,57) (20.55,63) (20.565,54) (20.6,63) (20.615,53.5) (20.7,61) (20.715,53) (20.85,57) (20.9,60) (20.915,54) (21.0,61) (21.015,54) (21.15,56) (21.25,58.5) (21.265,54) (21.4,56) (21.5,60) (21.515,54.5) (21.65,56) (21.8,60.5) (21.815,54.5) (21.9,56) (22.0,60) (22.015,54.5) (22.15,56) (22.25,58) (22.265,55) (22.35,63.3) (22.365,55) (22.45,58) (22.465,55.5) (22.55,66) (22.565,56) (22.65,65) (22.665,57) (22.75,62) (22.765,58) (22.82,81.1) (22.835,59) (22.9,63) (22.915,57) (23.0,62) (23.015,57) (23.1,64) (23.115,59) (23.2,65.8) (23.215,60) (23.28,66) (23.295,60) (23.35,83.9) (23.365,61) (23.45,68) (23.465,59) (23.55,67) (23.565,58) (23.62,82.8) (23.635,58) (23.75,62) (23.765,57) (23.85,58) (23.9,56.5) (23.98,55)
(23.98,50.2) (23.6,52.0) (23.4,56.2) (23.3,54.0) (23.2,55.5) (23.0,52.2) (22.9,51.2) (22.82,55.6) (22.7,52.6) (22.5,50.2) (22.2,49.4) (21.5,49.4) (21.0,49.0) (20.75,48.0) (20.55,49.8) (20.46,52.8) (20.3,51.2) (20.26,56.0) (20.2,51.5) (19.9,50.8) (19.5,53.4) (19.3,51.4) (19.15,54.9) (19.05,49.5) (18.65,48.0) (18.58,48.4) (18.45,52.8) (18.2,49.8) (17.92,47.4) (17.5,48.4) (17.35,48.6) (17.2,52.2) (17.12,49.0) (17.06,49.6) (16.95,57.2) (16.85,53.2) (16.7,50.4) (16.55,53.8) (16.42,50.8) (16.32,56.8) (16.28,50.6) (16.0,50.7) (15.6,49.9) (15.2,50.8) (15.1,52.2) (14.75,51.0) (14.45,51.7) (14.35,53.4) (14.0,52.4) (13.5,53.5) (12.95,53.5) (12.85,56.1) (12.75,53.9) (12.65,56.6) (12.55,53.9) (12.3,54.2) (12.0,55.3) (11.1,56.8) (10.6,55.6) (10.0,56.5) (9.45,57.6) (8.75,57.8) (8.0,57.1) (7.78,59.4) (7.72,59.5) (7.5,57.5) (7.22,59.5) (7.16,59.4) (7.0,57.9) (6.58,59.5) (6.52,59.4) (6.3,58.2) (5.92,58.8) (5.5,61.1) (5.0,62.2) (4.6,63.2) (3.22,63.2) (3.14,59.1) (3.1,55.9) (2.5,54.2) (2.0,55.0) (1.84,55.8) (1.8,56.2) (1.76,54.6) (1.5,53.2) (1.34,55.2) (1.3,56.0) (1.26,54.6) (1.0,52.6) (0.6,54.2) (0.45,52.7) (0.0,53.2)
} -- cycle;

% dB(Z)
\addplot[crimson, line width=1.2pt] coordinates {
(0.00,55.3) (0.08,55.8) (0.15,55.0) (0.22,55.2) (0.30,55.8) (0.35,55.5) (0.42,54.9) (0.50,55.2) (0.57,56.2) (0.62,56.7) (0.68,56.0) (0.75,55.2) (0.85,55.6) (0.92,54.9) (1.00,54.4) (1.08,54.8) (1.15,55.3) (1.22,55.5) (1.27,57.0) (1.30,58.5) (1.34,57.8) (1.38,55.6) (1.45,55.4) (1.55,55.8) (1.62,55.7) (1.70,56.2) (1.76,57.0) (1.80,58.8) (1.84,58.4) (1.88,56.8) (1.94,56.6) (2.00,57.2) (2.06,56.9) (2.15,56.7) (2.25,56.5) (2.35,56.4) (2.45,56.4) (2.55,56.6) (2.65,56.8) (2.72,57.2) (2.80,58.0) (2.88,57.8) (2.95,58.0) (3.05,58.0) (3.10,58.2) (3.14,61.5) (3.18,64.5) (3.22,65.0) (3.40,65.2) (3.60,65.1) (3.80,65.0) (4.00,65.1) (4.20,65.0) (4.40,65.1) (4.55,65.0) (4.62,64.6) (4.75,64.2) (4.90,63.6) (5.05,63.5) (5.20,63.3) (5.30,63.3) (5.45,62.6) (5.60,61.9) (5.75,61.0) (5.90,60.3) (6.05,60.0) (6.20,59.8) (6.35,59.7) (6.48,59.8) (6.52,61.0) (6.58,61.1) (6.62,59.8) (6.75,60.0) (6.85,59.8) (6.95,59.5) (7.10,59.6) (7.15,61.5) (7.22,61.6) (7.27,59.4) (7.40,59.4) (7.55,59.5) (7.68,59.4) (7.72,61.9) (7.78,61.8) (7.82,59.3) (7.95,59.0)
(8.00,59.2) (8.20,58.9) (8.40,59.0) (8.50,59.0) (8.65,59.2) (8.75,59.8) (8.85,59.2) (9.00,59.4) (9.20,59.5) (9.40,59.6) (9.45,59.9) (9.55,59.0) (9.75,58.8) (10.00,58.3) (10.20,58.1) (10.40,57.9) (10.55,57.6) (10.65,57.8) (10.80,58.0) (11.00,58.4) (11.10,58.7) (11.30,58.2) (11.50,58.0) (11.80,57.6) (12.00,56.9) (12.20,56.4) (12.30,55.8) (12.40,57.5) (12.50,56.2) (12.55,55.8) (12.65,58.6) (12.75,56.0) (12.85,58.2) (12.95,55.6) (13.05,56.6) (13.20,56.2) (13.35,56.0) (13.50,55.4) (13.70,55.1) (13.85,54.9) (14.00,54.7) (14.20,54.7) (14.35,55.3) (14.45,53.6) (14.60,53.3) (14.75,53.2) (14.90,53.4) (15.00,53.4) (15.10,54.5) (15.20,53.3) (15.35,53.4) (15.50,52.6) (15.60,51.9) (15.70,52.4) (15.80,53.6) (15.90,53.0) (16.00,53.2)
(16.05,53.4) (16.12,54.0) (16.20,53.5) (16.28,53.0) (16.32,60.3) (16.36,58.0) (16.42,53.5) (16.48,54.5) (16.55,56.9) (16.62,54.0) (16.70,52.6) (16.78,54.8) (16.85,56.1) (16.90,57.5) (16.95,60.3) (17.00,57.0) (17.06,52.0) (17.12,51.1) (17.20,55.6) (17.28,54.0) (17.35,52.0) (17.45,51.0) (17.52,50.6) (17.62,51.5) (17.72,51.3) (17.82,51.0) (17.92,50.8) (18.00,50.6) (18.10,51.6) (18.22,52.8) (18.32,54.2) (18.40,55.5) (18.45,56.2) (18.52,55.0) (18.58,51.5) (18.65,50.3) (18.75,51.3) (18.90,52.0) (19.00,52.3) (19.08,51.5) (19.15,56.7) (19.22,55.0) (19.30,54.3) (19.40,55.5) (19.50,56.2) (19.58,55.0) (19.68,54.0) (19.78,53.0) (19.90,53.6) (20.00,53.2) (20.12,53.5) (20.22,54.5) (20.26,58.1) (20.32,54.0) (20.40,54.6) (20.46,55.0) (20.55,52.5) (20.65,50.8) (20.78,50.3) (20.88,51.3) (21.00,51.2) (21.15,51.4) (21.30,51.3) (21.45,51.5) (21.55,52.0) (21.70,51.5) (21.85,51.7) (22.00,51.8) (22.15,51.6) (22.30,51.3) (22.40,52.0) (22.50,52.4) (22.60,53.5) (22.70,55.0) (22.78,57.0) (22.82,58.3) (22.86,57.0) (22.92,54.3) (23.00,54.8) (23.10,57.5) (23.20,58.9) (23.28,57.0) (23.35,57.6) (23.40,59.3) (23.46,58.5) (23.52,55.0) (23.60,54.8) (23.70,54.0) (23.80,53.4) (23.90,52.4) (23.98,51.9)
};
\addlegendentry{dB(Z)}

% dB(C)
\addplot[darkorange, line width=1.2pt] coordinates {
(0.00,53.6) (0.08,54.0) (0.15,53.4) (0.22,53.5) (0.30,54.0) (0.38,53.6) (0.45,53.1) (0.52,53.4) (0.60,54.6) (0.66,54.1) (0.75,53.4) (0.85,53.7) (0.92,53.1) (1.00,53.0) (1.10,53.2) (1.20,53.8) (1.26,55.0) (1.30,56.4) (1.34,55.6) (1.38,53.6) (1.50,53.6) (1.60,54.0) (1.70,54.2) (1.76,55.0) (1.80,56.6) (1.84,56.2) (1.88,54.8) (1.95,54.6) (2.00,55.4) (2.10,55.0) (2.25,54.7) (2.40,54.6) (2.55,54.7) (2.70,55.0) (2.80,55.8) (2.90,56.0) (3.00,56.1) (3.10,56.3) (3.14,59.5) (3.18,63.0) (3.22,63.6) (3.40,63.7) (3.60,63.7) (3.80,63.6) (4.00,63.7) (4.20,63.7) (4.40,63.7) (4.55,63.6) (4.62,63.3) (4.80,62.8) (5.00,62.6) (5.20,62.3) (5.35,62.2) (5.50,61.5) (5.65,60.6) (5.80,59.8) (5.92,59.2) (6.10,58.8) (6.30,58.6) (6.48,58.7) (6.52,59.8) (6.58,59.9) (6.62,58.6) (6.80,58.6) (7.00,58.3) (7.12,58.3) (7.16,59.8) (7.22,59.9) (7.27,58.1) (7.50,57.9) (7.68,58.0) (7.72,59.9) (7.78,59.8) (7.82,57.8) (7.95,57.5)
(8.00,57.5) (8.20,57.3) (8.50,57.3) (8.70,57.6) (8.75,58.2) (8.85,57.6) (9.10,57.8) (9.30,57.9) (9.45,58.0) (9.55,57.4) (9.80,57.1) (10.00,56.9) (10.30,56.5) (10.50,56.2) (10.60,56.0) (10.75,56.5) (10.95,56.8) (11.10,57.2) (11.30,56.7) (11.50,56.6) (11.80,56.1) (12.00,55.7) (12.20,55.0) (12.30,54.6) (12.40,56.0) (12.50,54.7) (12.55,54.3) (12.65,57.0) (12.75,54.3) (12.85,56.5) (12.95,53.9) (13.05,55.0) (13.20,54.8) (13.35,54.6) (13.50,53.9) (13.70,53.6) (13.85,53.2) (14.00,52.8) (14.20,53.0) (14.35,53.8) (14.45,52.1) (14.60,51.6) (14.75,51.4) (14.90,51.8) (15.00,51.6) (15.10,52.6) (15.20,51.2) (15.35,51.3) (15.50,51.0) (15.60,50.3) (15.70,50.8) (15.80,52.0) (15.90,51.2) (16.00,51.1)
(16.05,51.2) (16.12,51.6) (16.20,51.3) (16.28,51.0) (16.32,57.2) (16.36,55.0) (16.42,51.2) (16.48,52.0) (16.55,54.2) (16.62,51.6) (16.70,50.8) (16.78,52.6) (16.85,53.6) (16.90,55.0) (16.95,57.6) (17.00,54.0) (17.06,50.0) (17.12,49.4) (17.20,52.6) (17.28,51.0) (17.35,49.0) (17.45,48.8) (17.55,49.0) (17.65,49.4) (17.75,48.8) (17.85,48.2) (17.92,47.8) (18.00,48.0) (18.10,48.8) (18.22,50.3) (18.32,52.4) (18.40,52.8) (18.45,53.2) (18.52,52.0) (18.58,48.8) (18.65,48.4) (18.75,49.5) (18.90,50.0) (19.00,50.5) (19.08,49.8) (19.15,55.3) (19.22,52.5) (19.30,51.8) (19.40,53.0) (19.50,53.8) (19.58,52.6) (19.68,51.5) (19.78,50.8) (19.90,51.2) (20.00,51.0) (20.12,51.2) (20.22,52.0) (20.26,56.4) (20.32,51.6) (20.40,52.0) (20.46,53.2) (20.55,50.2) (20.65,48.6) (20.78,48.4) (20.88,49.2) (21.00,49.4) (21.15,49.6) (21.30,49.4) (21.45,49.8) (21.60,50.0) (21.75,49.8) (21.90,50.0) (22.00,50.0) (22.15,49.9) (22.30,49.7) (22.40,50.2) (22.50,50.6) (22.60,51.4) (22.70,53.0) (22.78,55.0) (22.82,56.1) (22.86,54.8) (22.92,51.6) (23.00,52.6) (23.10,54.6) (23.20,56.0) (23.28,54.4) (23.35,55.0) (23.40,56.8) (23.46,55.8) (23.52,52.2) (23.60,52.4) (23.70,51.8) (23.80,51.4) (23.90,50.8) (23.98,50.6)
};
\addlegendentry{dB(C)}

% dB(A)
\addplot[gold, line width=1.2pt] coordinates {
(0.00,41.7) (0.05,41.5) (0.10,40.8) (0.15,40.2) (0.20,39.4) (0.25,40.2) (0.30,41.0) (0.35,40.6) (0.40,39.5) (0.45,39.0) (0.50,39.4) (0.55,40.5) (0.60,41.7) (0.65,41.0) (0.70,39.8) (0.75,39.5) (0.80,39.8) (0.85,39.6) (0.90,39.9) (0.95,40.0) (1.00,40.2) (1.08,40.5) (1.15,40.6) (1.20,41.0) (1.25,41.3) (1.28,42.8) (1.31,44.4) (1.34,44.0) (1.38,41.5) (1.45,41.1) (1.52,41.3) (1.60,41.4) (1.66,41.8) (1.72,41.0) (1.78,41.6) (1.80,43.0) (1.84,42.6) (1.88,40.8) (1.94,41.2) (2.00,41.7) (2.04,43.5) (2.08,45.2) (2.12,45.6) (2.16,44.8) (2.22,43.0) (2.28,41.2) (2.36,40.8) (2.42,40.5) (2.48,39.5) (2.54,37.5) (2.58,36.8) (2.63,36.4) (2.68,36.5) (2.72,37.5) (2.78,39.5) (2.84,41.5) (2.90,43.5) (2.96,45.5) (3.02,46.6) (3.08,47.8) (3.14,48.0) (3.20,48.4) (3.26,47.5) (3.32,46.5) (3.38,45.6) (3.45,45.4) (3.52,45.8) (3.60,45.3) (3.68,45.6) (3.76,45.2) (3.84,45.8) (3.92,45.6) (4.00,46.1) (4.06,46.4) (4.12,45.8) (4.20,47.0) (4.26,46.2) (4.32,45.3) (4.40,45.6) (4.48,45.3) (4.56,46.0) (4.64,45.8) (4.72,46.2) (4.80,46.0) (4.88,46.3) (4.96,45.8) (5.02,44.0) (5.08,42.5) (5.14,41.4) (5.20,42.8) (5.26,45.0) (5.33,46.7) (5.40,46.3) (5.48,45.8) (5.55,46.0) (5.62,45.5) (5.70,45.0) (5.78,44.3) (5.86,44.6) (5.94,44.4) (6.00,44.6) (6.08,45.2) (6.16,45.9) (6.24,45.4) (6.32,44.6) (6.40,45.0) (6.48,45.6) (6.55,47.0) (6.60,46.5) (6.66,44.8) (6.74,45.0) (6.82,45.6) (6.90,45.8) (6.98,44.9) (7.06,45.2) (7.12,45.8) (7.17,48.2) (7.22,48.0) (7.27,45.2) (7.35,45.0) (7.42,45.6) (7.50,46.0) (7.58,45.4) (7.66,45.8) (7.72,47.6) (7.78,47.2) (7.84,45.0) (7.90,42.8) (7.95,41.7)
(8.00,41.8) (8.08,42.2) (8.16,42.6) (8.25,42.9) (8.35,42.6) (8.45,42.8) (8.55,42.4) (8.62,41.6) (8.68,41.1) (8.75,42.0) (8.85,43.4) (8.95,45.0) (9.02,47.0) (9.08,47.5) (9.15,47.0) (9.22,46.4) (9.28,44.5) (9.33,41.5) (9.38,39.6) (9.45,40.2) (9.52,39.0) (9.58,37.5) (9.65,36.4) (9.72,36.8) (9.80,37.1) (9.88,36.9) (9.96,37.2) (10.04,36.8) (10.12,36.2) (10.20,35.8) (10.28,36.4) (10.36,36.5) (10.44,36.8) (10.52,37.3) (10.60,37.5) (10.68,39.2) (10.74,39.0) (10.80,37.0) (10.86,35.3) (10.92,36.5) (10.96,39.7) (11.02,39.6) (11.06,37.6) (11.12,37.5) (11.16,38.0) (11.24,37.6) (11.30,36.2) (11.38,35.6) (11.46,35.5) (11.54,35.8) (11.62,36.2) (11.68,35.4) (11.76,34.6) (11.84,34.5) (11.92,34.9) (12.00,35.0) (12.06,34.3) (12.10,33.6) (12.16,34.2) (12.22,35.6) (12.30,35.2) (12.38,35.3) (12.46,35.1) (12.54,35.6) (12.60,36.3) (12.66,35.2) (12.70,34.6) (12.74,39.0) (12.79,39.0) (12.83,35.4) (12.88,38.0) (12.92,37.2) (12.96,34.8) (13.02,35.0) (13.08,35.5) (13.13,37.8) (13.18,36.5) (13.26,35.0) (13.34,34.6) (13.42,35.4) (13.50,35.4) (13.58,34.8) (13.66,35.4) (13.74,35.2) (13.82,34.7) (13.90,35.2) (13.98,35.6) (14.04,35.0) (14.10,33.9) (14.18,34.2) (14.26,34.5) (14.32,36.5) (14.36,41.1) (14.40,40.2) (14.44,36.5) (14.50,35.2) (14.58,34.3) (14.66,34.6) (14.74,35.4) (14.82,36.4) (14.90,37.6) (14.97,37.8) (15.04,40.2) (15.08,40.8) (15.14,39.0) (15.22,39.2) (15.30,39.6) (15.38,40.4) (15.46,39.6) (15.54,38.8) (15.62,38.4) (15.70,39.0) (15.76,40.5) (15.80,41.9) (15.84,41.5) (15.88,39.6) (15.94,39.5) (16.00,39.2)
(16.06,39.5) (16.12,39.9) (16.18,39.6) (16.24,40.5) (16.29,44.0) (16.32,46.1) (16.36,45.5) (16.40,40.4) (16.46,40.6) (16.52,43.3) (16.56,42.5) (16.62,39.0) (16.68,39.5) (16.74,41.0) (16.80,42.0) (16.86,42.5) (16.90,45.8) (16.95,45.0) (17.00,39.2) (17.06,40.0) (17.12,44.2) (17.18,43.5) (17.24,40.5) (17.30,40.0) (17.36,40.8) (17.42,41.2) (17.48,40.6) (17.56,40.6) (17.64,41.2) (17.72,39.5) (17.80,38.3) (17.88,38.7) (17.96,39.2) (18.02,38.6) (18.10,40.0) (18.16,42.5) (18.22,44.5) (18.28,45.0) (18.34,44.8) (18.40,44.2) (18.46,46.0) (18.52,45.8) (18.56,42.8) (18.62,43.4) (18.70,44.0) (18.78,44.5) (18.86,45.2) (18.94,44.8) (19.02,44.4) (19.10,44.8) (19.16,45.2) (19.24,44.0) (19.32,43.2) (19.40,42.2) (19.48,41.6) (19.56,41.2) (19.62,42.5) (19.68,41.8) (19.76,40.8) (19.84,40.4) (19.92,41.0) (20.00,41.4) (20.08,42.0) (20.14,42.8) (20.20,44.0) (20.24,46.7) (20.28,46.2) (20.32,44.0) (20.38,43.6) (20.44,43.8) (20.50,42.6) (20.56,42.2) (20.62,41.5) (20.68,43.5) (20.74,44.8) (20.80,45.2) (20.88,44.0) (20.96,44.6) (21.04,45.0) (21.12,44.6) (21.20,44.9) (21.28,44.6) (21.36,44.8) (21.44,45.2) (21.52,45.0) (21.60,44.8) (21.68,44.4) (21.76,43.8) (21.84,44.6) (21.92,44.6) (22.00,45.0) (22.08,44.8) (22.16,45.4) (22.22,45.9) (22.30,45.0) (22.38,44.4) (22.46,44.8) (22.54,44.6) (22.62,44.8) (22.70,45.6) (22.76,44.8) (22.80,48.2) (22.85,48.0) (22.90,43.8) (22.96,43.6) (23.04,44.2) (23.12,44.0) (23.20,44.2) (23.26,44.0) (23.30,47.2) (23.35,47.0) (23.40,45.0) (23.46,45.4) (23.52,45.8) (23.58,46.4) (23.64,45.0) (23.70,45.2) (23.76,44.6) (23.82,43.0) (23.90,42.8) (23.98,42.2)
};
\addlegendentry{dB(A)}
\end{axis}

\begin{axis}[rightlab, at={(0,-403.2pt)}, anchor=north west, height=363.6pt]
\end{axis}

% figure heading
\node[anchor=north west, align=left, inner sep=0pt,
  font=\bfseries\fontsize{9.5}{11.6}\selectfont] at (-25.9pt,52.5pt)
  {data from [421/mic0]\\starting point is [20250704\_000002]};

\pgfresetboundingbox
\path[use as bounding box] (-42.5pt,60.5pt) rectangle (1685.5pt,-803.5pt);
\end{tikzpicture}
\end{document}
